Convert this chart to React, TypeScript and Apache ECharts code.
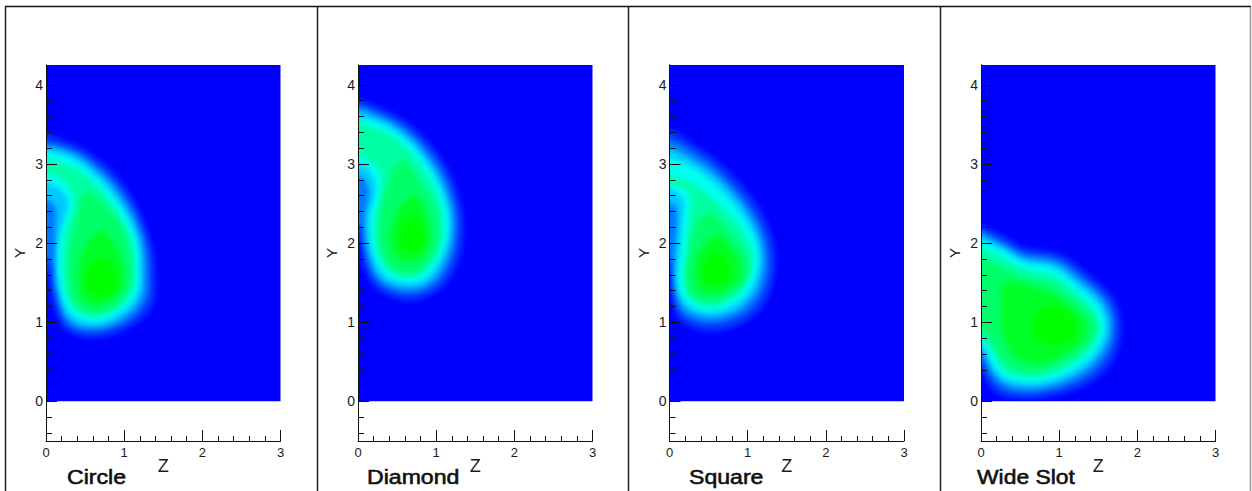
import React, { useEffect, useRef } from "react";
import * as echarts from "echarts";

type Pt = number[];
const panelNames = ["Circle", "Diamond", "Square", "Wide Slot"];
const panelLefts = [46, 358, 669.5, 981];
const labelX = [67, 367, 689, 977];
const labelScale = [1.1, 1.1, 1.1, 1.09];
const xMajor = 1;
const yMajorTicks = [0, 1, 2, 3, 4];
const yMinorTicks = [-0.4, -0.2, 0, 0.2, 0.4, 0.6, 0.8, 1, 1.2, 1.4, 1.6, 1.8, 2, 2.2, 2.4, 2.6, 2.8, 3, 3.2, 3.4, 3.6, 3.8, 4, 4.2];
const plotBox: Pt[] = [[0, 0], [3, 0], [3, 4.25], [0, 4.25]];
const belowBox: Pt[] = [[-0.2, 0], [3.2, 0], [3.2, -0.5], [-0.2, -0.5]];
const levelColors = ["#0030ff", "#0078ff", "#00c8ff", "#00ffee", "#00ffa4", "#00ff68", "#00ff28", "#00ff00"];

const circle: Pt[][] = [
  [[-.1,3.36],[.3,3.27],[.6,3.12],[.95,2.8],[1.2,2.4],[1.35,2.0],[1.4,1.66],[1.37,1.22],[1.1,.95],[.65,.8],[.26,.9],[.08,1.25],[.02,1.6],[-.1,1.75]],
  [[-.1,3.3],[0,3.28],[.3,3.2],[.56,3.06],[.9,2.75],[1.15,2.36],[1.28,2.0],[1.32,1.66],[1.29,1.28],[1.06,1.02],[.65,.88],[.28,.97],[.12,1.35],[.05,1.75],[-.1,1.95]],
  [[-.1,3.23],[0,3.22],[.28,3.15],[.52,3.02],[.86,2.7],[1.1,2.33],[1.22,2.0],[1.25,1.66],[1.22,1.33],[1.02,1.08],[.65,.94],[.3,1.03],[.15,1.4],[.12,1.9],[.12,2.2],[.12,2.45],[0,2.55],[-.1,2.55]],
  [[-.1,3.17],[0,3.16],[.25,3.1],[.48,2.97],[.82,2.65],[1.05,2.3],[1.17,2.0],[1.19,1.66],[1.17,1.37],[.98,1.15],[.65,1.0],[.33,1.1],[.18,1.44],[.15,1.9],[.2,2.2],[.28,2.52],[.15,2.7],[0,2.77],[-.1,2.78]],
  [[-.1,3.05],[.2,3.0],[.44,2.9],[.78,2.58],[1.0,2.25],[1.11,1.98],[1.13,1.66],[1.1,1.4],[.94,1.2],[.65,1.07],[.37,1.17],[.24,1.47],[.22,1.9],[.27,2.2],[.36,2.55],[.2,2.82],[0,2.88],[-.1,2.88]],
  [[.5,2.65],[.75,2.48],[.98,2.18],[1.08,1.8],[1.07,1.45],[.92,1.23],[.65,1.12],[.4,1.2],[.3,1.5],[.3,1.9],[.38,2.25]],
  [[.72,2.15],[.92,1.88],[1.0,1.55],[.86,1.3],[.62,1.22],[.44,1.34],[.42,1.7],[.53,2.0]],
  [[.72,1.8],[.88,1.65],[.88,1.42],[.7,1.32],[.54,1.42],[.54,1.68]],
];
const diamond: Pt[][] = [
  [[-.1,3.78],[.32,3.7],[.74,3.44],[1.1,3.02],[1.31,2.53],[1.35,2.1],[1.25,1.68],[1.0,1.38],[.62,1.27],[.24,1.42],[.07,1.7],[.02,2.0],[-.1,2.1]],
  [[-.1,3.71],[.32,3.62],[.7,3.38],[1.05,2.97],[1.24,2.5],[1.27,2.1],[1.18,1.74],[.96,1.45],[.62,1.36],[.26,1.5],[.09,1.85],[.03,2.2],[-.1,2.3]],
  [[-.1,3.65],[.32,3.56],[.68,3.32],[1.0,2.92],[1.18,2.48],[1.2,2.1],[1.12,1.79],[.92,1.51],[.62,1.43],[.28,1.56],[.12,1.93],[.09,2.33],[.14,2.65],[.08,2.8],[0,2.84],[-.1,2.84]],
  [[-.1,3.6],[0,3.59],[.32,3.5],[.66,3.26],[.96,2.88],[1.13,2.46],[1.15,2.12],[1.07,1.83],[.88,1.57],[.62,1.5],[.32,1.62],[.17,1.96],[.15,2.33],[.22,2.67],[.17,2.88],[0,3.0],[-.1,3.0]],
  [[-.1,3.5],[.3,3.42],[.62,3.2],[.9,2.83],[1.07,2.44],[1.09,2.12],[1.01,1.86],[.84,1.63],[.62,1.57],[.36,1.68],[.23,1.98],[.22,2.33],[.3,2.68],[.25,2.95],[0,3.12],[-.1,3.12]],
  [[.55,3.05],[.8,2.78],[.98,2.42],[1.02,2.1],[.94,1.83],[.8,1.67],[.62,1.62],[.4,1.72],[.29,2.0],[.29,2.33],[.37,2.72]],
  [[.72,2.6],[.88,2.32],[.92,2.04],[.8,1.81],[.62,1.76],[.47,1.86],[.42,2.1],[.52,2.42]],
  [[.74,2.34],[.84,2.16],[.82,1.96],[.68,1.88],[.54,1.98],[.56,2.22]],
];
const square: Pt[][] = [
  [[-.1,3.42],[.39,3.2],[.92,2.75],[1.24,2.28],[1.36,1.82],[1.27,1.33],[1.0,1.02],[.52,.88],[.14,1.02],[.03,1.3],[-.02,1.6],[-.1,1.7]],
  [[-.1,3.3],[.39,3.1],[.86,2.68],[1.16,2.24],[1.27,1.82],[1.2,1.4],[.95,1.1],[.52,.98],[.16,1.1],[.05,1.4],[.02,1.75],[-.1,1.85]],
  [[-.1,3.2],[.39,3.0],[.82,2.62],[1.1,2.2],[1.2,1.82],[1.13,1.45],[.9,1.17],[.52,1.06],[.2,1.17],[.08,1.45],[.07,1.9],[.1,2.3],[.08,2.45],[0,2.5],[-.1,2.5]],
  [[-.1,3.1],[0,3.09],[.39,2.9],[.77,2.55],[1.05,2.16],[1.14,1.82],[1.07,1.49],[.86,1.24],[.52,1.13],[.22,1.24],[.11,1.49],[.13,1.91],[.17,2.33],[.17,2.55],[0,2.7],[-.1,2.7]],
  [[-.1,2.85],[.3,2.75],[.7,2.42],[.98,2.08],[1.07,1.8],[1.0,1.53],[.82,1.31],[.52,1.2],[.27,1.3],[.18,1.52],[.22,1.91],[.25,2.33],[.27,2.6],[.12,2.72],[-.1,2.74]],
  [[.5,2.4],[.8,2.1],[1.0,1.8],[.97,1.53],[.8,1.36],[.52,1.26],[.3,1.34],[.22,1.55],[.26,1.9],[.33,2.2]],
  [[.62,2.1],[.85,1.85],[.9,1.6],[.74,1.42],[.52,1.36],[.35,1.46],[.32,1.7],[.42,1.95]],
  [[.6,1.88],[.76,1.72],[.76,1.56],[.6,1.46],[.44,1.54],[.44,1.74]],
];
const wideSlot: Pt[][] = [
  [[-.1,2.2],[.24,2.12],[.54,1.95],[1.0,1.87],[1.37,1.62],[1.7,1.3],[1.8,.92],[1.67,.48],[1.3,.18],[.75,.04],[.32,.05],[.12,.18],[0,.38],[-.1,.48]],
  [[-.1,2.14],[.24,2.04],[.54,1.88],[.98,1.8],[1.31,1.57],[1.63,1.27],[1.72,.92],[1.6,.55],[1.26,.26],[.75,.11],[.35,.13],[.15,.26],[.01,.5],[-.1,.6]],
  [[-.1,2.09],[.24,1.98],[.54,1.82],[.95,1.74],[1.27,1.52],[1.57,1.23],[1.65,.92],[1.54,.61],[1.22,.33],[.75,.18],[.37,.2],[.18,.33],[.02,.62],[-.1,.74]],
  [[-.1,2.04],[0,2.02],[.24,1.93],[.54,1.76],[.93,1.68],[1.22,1.47],[1.52,1.19],[1.59,.92],[1.48,.65],[1.18,.39],[.75,.24],[.37,.27],[.2,.39],[.03,.69],[-.1,.86]],
  [[-.1,1.95],[.2,1.85],[.52,1.68],[.9,1.6],[1.18,1.4],[1.46,1.13],[1.52,.92],[1.42,.69],[1.14,.46],[.75,.31],[.4,.34],[.25,.45],[.08,.74],[-.1,.95]],
  [[-.1,1.78],[.2,1.72],[.5,1.58],[.88,1.5],[1.14,1.32],[1.4,1.08],[1.46,.92],[1.37,.72],[1.1,.52],[.75,.38],[.43,.41],[.28,.52],[.13,.78],[-.1,1.05]],
  [[.3,1.5],[.85,1.38],[1.12,1.22],[1.34,1.0],[1.32,.8],[1.07,.6],[.75,.48],[.45,.56],[.28,.85],[.26,1.2]],
  [[.85,1.2],[1.08,1.14],[1.22,.98],[1.18,.82],[1.0,.72],[.76,.76],[.66,.95]],
];
const panelContours = [circle, diamond, square, wideSlot];

const font = "'Liberation Sans', Arial, sans-serif";
const ink = "#1c1c1c";
const softenId = "contour-soften";

export default function App() {
  const ref = useRef<HTMLDivElement>(null);
  useEffect(() => {
    const chart = echarts.init(ref.current!, null, { renderer: "svg" });
    const grids: any[] = [], xAxes: any[] = [], yAxes: any[] = [], series: any[] = [];
    panelNames.forEach((_, p) => {
      grids.push({ left: panelLefts[p], top: 65, width: 234.5, height: 376, show: false });
      xAxes.push({
        type: "value", gridIndex: p, min: 0, max: 3, interval: xMajor, position: "bottom", z: 6,
        name: "Z", nameLocation: "middle", nameGap: 16, nameMoveOverlap: false,
        nameTextStyle: { fontFamily: font, fontSize: 18, color: ink },
        axisLine: { show: true, onZero: false, lineStyle: { color: "#111", width: 1 } },
        axisTick: { show: true, inside: true, length: 11, lineStyle: { color: "#111" } },
        minorTick: { show: true, splitNumber: 5, length: 5, lineStyle: { color: "#111" } },
        splitLine: { show: false }, minorSplitLine: { show: false },
        axisLabel: { margin: 5, fontFamily: font, fontSize: 13, color: ink, showMinLabel: true, showMaxLabel: true },
      });
      yAxes.push({
        type: "value", gridIndex: p, min: -0.5, max: 4.25, position: "left", z: 6,
        axisLine: { show: true, onZero: false, lineStyle: { color: "#111", width: 1 } },
        axisTick: { show: true, inside: true, length: 6, customValues: yMinorTicks, lineStyle: { color: "#111" } },
        axisLabel: { show: false }, splitLine: { show: false },
      });
      yAxes.push({
        type: "value", gridIndex: p, min: -0.5, max: 4.25, position: "left", z: 6,
        name: "Y", nameLocation: "middle", nameGap: 19, nameMoveOverlap: false,
        nameTextStyle: { fontFamily: font, fontSize: 15, color: ink },
        axisLine: { show: true, onZero: false, lineStyle: { color: "#111", width: 1 } },
        axisTick: { show: true, inside: true, length: 11, customValues: yMajorTicks, lineStyle: { color: "#111" } },
        axisLabel: { margin: 3, customValues: yMajorTicks, fontFamily: font, fontSize: 14, color: ink },
        splitLine: { show: false },
      });
      const shapes: { pts: Pt[]; color: string; smooth: number }[] = [
        { pts: plotBox, color: "#0000ff", smooth: 0 },
        ...panelContours[p].map((pts, i) => ({ pts, color: levelColors[i], smooth: 0.35 })),
        { pts: belowBox, color: "#ffffff", smooth: 0 },
      ];
      series.push({
        type: "custom", xAxisIndex: p, yAxisIndex: p * 2, clip: true, silent: true, z: 2,
        coordinateSystem: "cartesian2d",
        data: shapes.map((_s, i) => [0, 0, i]),
        renderItem: (_params: any, api: any) => {
          const s = shapes[api.value(2) as number];
          return {
            type: "polygon",
            shape: { points: s.pts.map((q) => api.coord(q)), smooth: s.smooth },
            style: { fill: s.color },
          };
        },
      });
    });
    const frameXs = [5.5, 317.5, 628.5, 940.5];
    const graphic: any[] = [
      { type: "line", shape: { x1: 5, y1: 6.5, x2: 1251, y2: 6.5 }, style: { stroke: "#111", lineWidth: 1.5 }, z: 10 },
      ...frameXs.map((x) => ({ type: "line", shape: { x1: x, y1: 6, x2: x, y2: 491 }, style: { stroke: "#222", lineWidth: 1.5 }, z: 10 })),
      { type: "line", shape: { x1: 1250.5, y1: 7, x2: 1250.5, y2: 491 }, style: { stroke: "#999", lineWidth: 1.5 }, z: 10 },
      ...panelNames.map((t, p) => ({
        type: "text", x: labelX[p], y: 477, scaleX: labelScale[p], z: 10,
        style: { text: t, font: `21px ${font}`, fill: "#111", stroke: "#111", lineWidth: 0.6, verticalAlign: "middle" },
      })),
    ];
    chart.setOption({ animation: false, backgroundColor: "#fff", grid: grids, xAxis: xAxes, yAxis: yAxes, series, graphic });

    // The picture is a continuous field: soften the steps between the contour levels.
    const svg = ref.current!.querySelector("svg");
    if (svg) {
      const ns = "http://www.w3.org/2000/svg";
      const filter = document.createElementNS(ns, "filter");
      filter.setAttribute("id", softenId);
      filter.setAttribute("x", "-30%");
      filter.setAttribute("y", "-30%");
      filter.setAttribute("width", "160%");
      filter.setAttribute("height", "160%");
      const blur = document.createElementNS(ns, "feGaussianBlur");
      blur.setAttribute("stdDeviation", "2.6");
      filter.appendChild(blur);
      svg.appendChild(filter);
      svg.querySelectorAll("path").forEach((el) => {
        const fill = el.getAttribute("fill");
        if (fill && levelColors.includes(fill)) el.setAttribute("filter", `url(#${softenId})`);
      });
    }
    return () => chart.dispose();
  }, []);
  return <div ref={ref} style={{ position: "fixed", left: 0, top: 0, width: 1252, height: 491 }} />;
}
